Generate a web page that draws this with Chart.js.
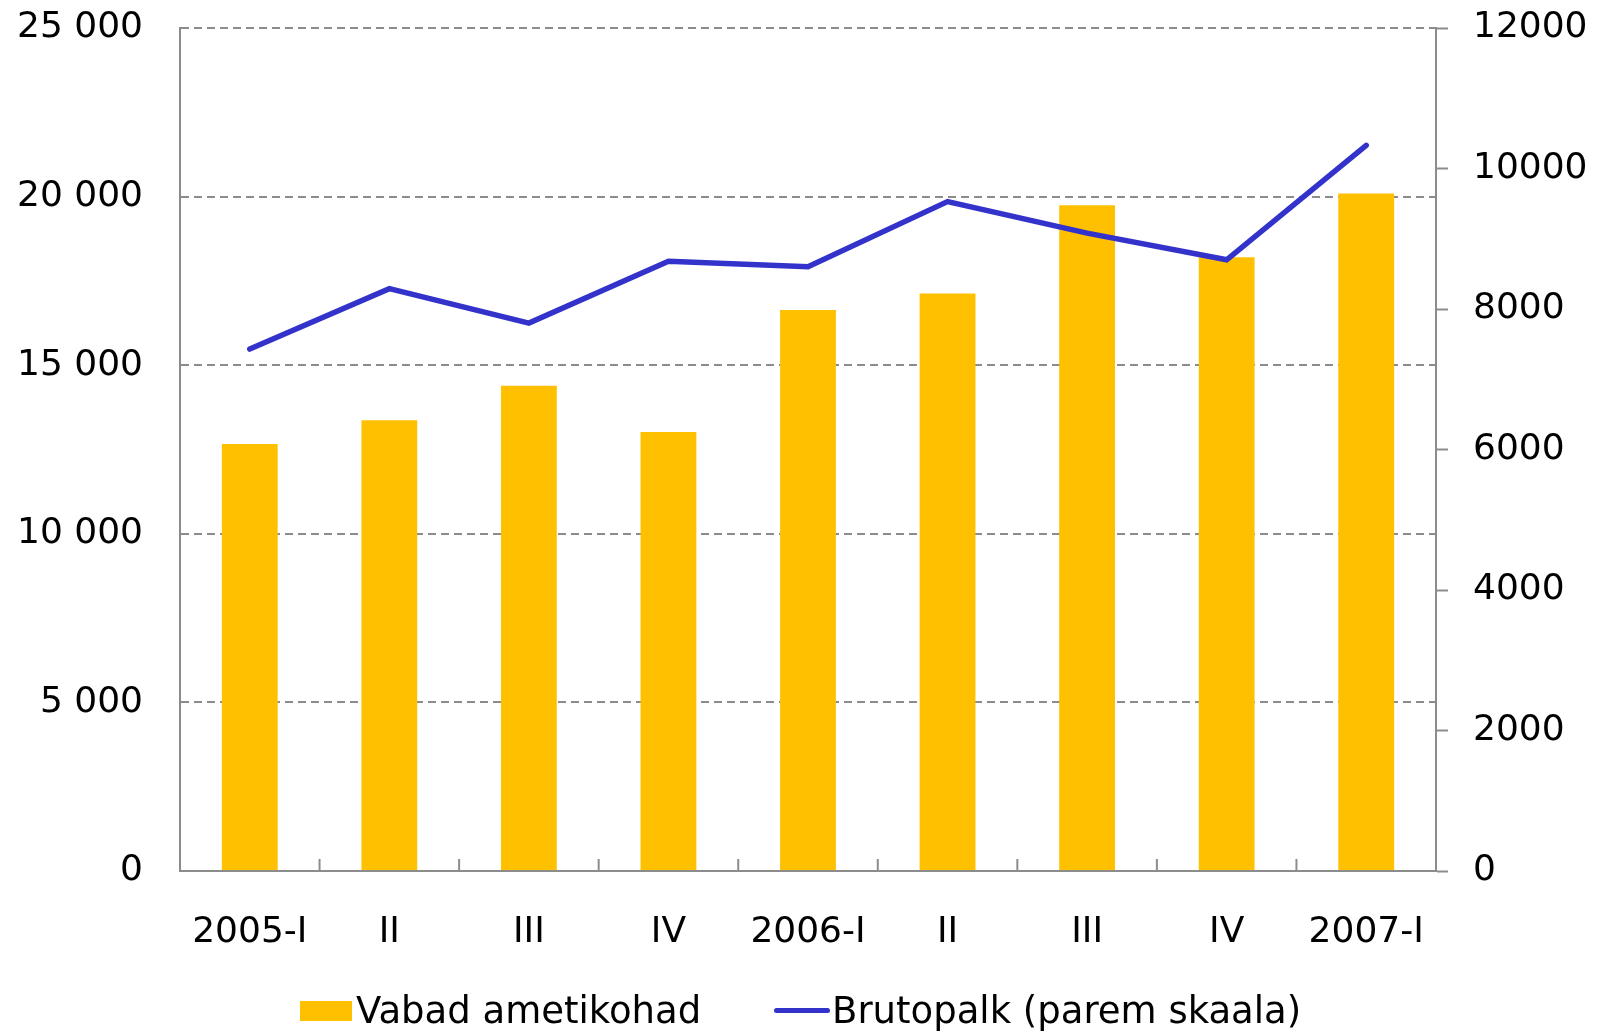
<!DOCTYPE html>
<html>
<head>
<meta charset="utf-8">
<script src="https://cdn.jsdelivr.net/npm/chart.js@4"></script>
<style>
  html, body { margin: 0; padding: 0; background: #fff; }
  #wrap { position: relative; width: 1597px; height: 1033px; }
  #c { position: absolute; left: 0; top: 0; }
  .lg { position: absolute; font-family: "DejaVu Sans", Verdana, sans-serif; font-size: 37px; line-height: 37px; color: #000; white-space: nowrap; }
  .sw-bar { position: absolute; background: #FFC000; }
  .sw-line { position: absolute; background: #3333CC; border-radius: 3px; }
</style>
</head>
<body>
<div id="wrap">
  <canvas id="c" width="1597" height="1033"></canvas>
  <div class="sw-bar" style="left:300px; top:1001px; width:52px; height:20px;"></div>
  <div class="lg" style="left:356px; top:992px;">Vabad ametikohad</div>
  <div class="sw-line" style="left:774px; top:1008px; width:56px; height:5px;"></div>
  <div class="lg" style="left:832px; top:992px;">Brutopalk (parem skaala)</div>
</div>
<script>
const categories = ['2005-I', 'II', 'III', 'IV', '2006-I', 'II', 'III', 'IV', '2007-I'];
const vacancies = [12660, 13370, 14390, 13020, 16640, 17130, 19740, 18200, 20090];
const grossWage = [7430, 8290, 7800, 8680, 8600, 9530, 9080, 8700, 10330];
const leftTickLabels = ['0', '5 000', '10 000', '15 000', '20 000', '25 000'];
const rightTickLabels = ['0', '2000', '4000', '6000', '8000', '10000', '12000'];
const seriesNames = ['Vabad ametikohad', 'Brutopalk (parem skaala)'];

const axisGray = '#8c8c8c';
const FONT = { family: '"DejaVu Sans", Verdana, sans-serif', size: 36 };

const innerTicks = {
  id: 'innerTicks',
  afterDatasetsDraw(chart) {
    const x = chart.scales.x;
    const ctx = chart.ctx;
    const b = chart.chartArea.bottom;
    ctx.save();
    ctx.strokeStyle = axisGray;
    ctx.lineWidth = 2;
    for (let i = 0; i < categories.length - 1; i++) {
      const px = (x.getPixelForValue(i) + x.getPixelForValue(i + 1)) / 2;
      ctx.beginPath();
      ctx.moveTo(px, b);
      ctx.lineTo(px, b - 12);
      ctx.stroke();
    }
    ctx.restore();
  }
};

new Chart(document.getElementById('c'), {
  data: {
    labels: categories,
    datasets: [
      {
        type: 'line',
        label: seriesNames[1],
        data: grossWage,
        yAxisID: 'y1',
        borderColor: '#3333CC',
        borderWidth: 5.5,
        pointRadius: 0,
        tension: 0,
        borderCapStyle: 'round',
        borderJoinStyle: 'miter',
        fill: false,
        order: 0
      },
      {
        type: 'bar',
        label: seriesNames[0],
        data: vacancies,
        yAxisID: 'y',
        backgroundColor: '#FFC000',
        borderWidth: 0,
        barPercentage: 0.4,
        categoryPercentage: 1.0,
        order: 1
      }
    ]
  },
  options: {
    responsive: false,
    animation: false,
    devicePixelRatio: 1,
    layout: { padding: { top: 28, left: 0, right: 0, bottom: 0 } },
    plugins: { legend: { display: false }, tooltip: { enabled: false } },
    scales: {
      x: {
        type: 'category',
        offset: true,
        grid: { display: true, drawOnChartArea: false, drawTicks: false },
        border: { display: true, color: axisGray, width: 2 },
        ticks: { color: '#000', font: FONT, padding: 40, maxRotation: 0, autoSkip: false },
        afterFit(s) { s.height = 162; }
      },
      y: {
        type: 'linear',
        position: 'left',
        min: 0, max: 25000,
        ticks: {
          stepSize: 5000, color: '#000', font: FONT, padding: 37,
          callback: (v, i) => leftTickLabels[i]
        },
        grid: { color: axisGray, lineWidth: 2, drawTicks: false },
        border: { display: true, color: axisGray, width: 2, dash: [8, 5] },
        afterFit(s) { s.width = 180; s.paddingTop = 0; s.paddingBottom = 0; }
      },
      y1: {
        type: 'linear',
        position: 'right',
        min: 0, max: 12000,
        ticks: {
          stepSize: 2000, color: '#000', font: FONT, padding: 25,
          callback: (v, i) => rightTickLabels[i]
        },
        grid: { drawOnChartArea: false, drawTicks: true, tickLength: 12, tickColor: axisGray, tickWidth: 2 },
        border: { display: true, color: axisGray, width: 2 },
        afterFit(s) { s.width = 161; s.paddingTop = 0; s.paddingBottom = 0; }
      }
    }
  },
  plugins: [innerTicks]
});
</script>
</body>
</html>
